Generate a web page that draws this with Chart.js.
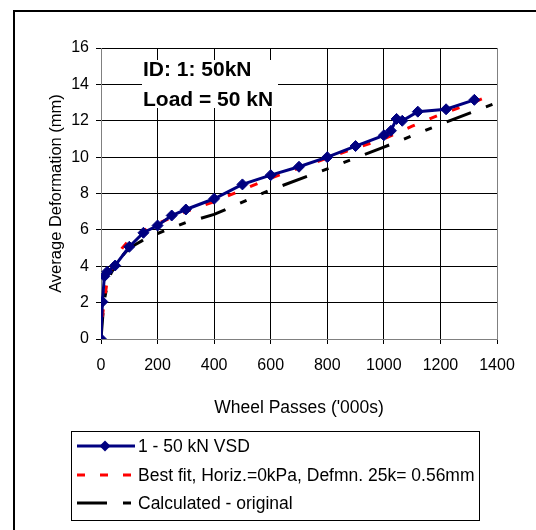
<!DOCTYPE html>
<html>
<head>
<meta charset="utf-8">
<script src="https://cdn.jsdelivr.net/npm/chart.js@4.4.1/dist/chart.umd.min.js"></script>
<style>
  body { margin: 0; background: #fff; }
  canvas { display: block; }
</style>
</head>
<body>
<canvas id="deformChart" width="536" height="530"></canvas>
<script>
// Dados
const vsdPasses = [0, 5, 12, 22, 50, 100, 150, 200, 250, 300, 400, 500, 600, 700, 800, 900, 1000, 1025, 1045, 1065, 1120, 1220, 1320];
const vsdDeform = [0, 2.05, 3.45, 3.7, 4.04, 5.07, 5.84, 6.24, 6.79, 7.12, 7.71, 8.5, 9.01, 9.47, 10.0, 10.61, 11.2, 11.45, 12.1, 12.0, 12.5, 12.63, 13.15];

const fitPasses = [5, 10, 20, 35, 50, 75, 100, 150, 200, 300, 400, 500, 600, 700, 800, 900, 1000, 1100, 1200, 1300, 1370];
const fitDeform = [1.2, 1.9, 3.0, 3.8, 4.4, 5.0, 5.45, 5.95, 6.35, 7.0, 7.55, 8.2, 8.85, 9.4, 9.95, 10.5, 11.0, 11.7, 12.35, 12.9, 13.35];

const calcPasses = [0, 10, 20, 35, 60, 100, 150, 200, 300, 400, 600, 800, 1000, 1200, 1400];
const calcDeform = [0, 2.0, 2.8, 3.6, 4.3, 5.0, 5.45, 5.8, 6.4, 6.85, 8.2, 9.35, 10.55, 11.8, 13.0];

const seriesLabels = ['1 - 50 kN VSD', 'Best fit, Horiz.=0kPa, Defmn. 25k= 0.56mm', 'Calculated - original'];
const xTitle = "Wheel Passes ('000s)";
const yTitle = 'Average Deformation (mm)';
const noteLines = ['ID: 1: 50kN', 'Load = 50 kN'];

const FONT = '"Liberation Sans", Arial, sans-serif';

function toPoints(xs, ys) {
    return xs.map((x, i) => ({ x: x, y: ys[i] }));
}

// Moldura externa, caixa de texto e legenda
const decorPlugin = {
    id: 'decor',
    beforeDatasetsDraw(chart) {
        const ctx = chart.ctx;
        // caixa branca com o texto
        ctx.save();
        ctx.fillStyle = '#fff';
        ctx.fillRect(142, 60, 136, 48);
        ctx.fillStyle = '#000';
        ctx.font = 'bold 21px ' + FONT;
        ctx.textBaseline = 'middle';
        ctx.textAlign = 'left';
        ctx.fillText(noteLines[0], 143, 70);
        ctx.fillText(noteLines[1], 143, 100);
        ctx.restore();
    },
    afterDraw(chart) {
        const ctx = chart.ctx;
        ctx.save();
        // moldura
        ctx.strokeStyle = '#000';
        ctx.lineWidth = 2;
        ctx.beginPath();
        ctx.moveTo(14, 530);
        ctx.lineTo(14, 11);
        ctx.lineTo(536, 11);
        ctx.stroke();

        // legenda
        ctx.lineWidth = 1;
        ctx.strokeRect(71.5, 431.5, 408, 89);
        const rows = [446, 475, 503];
        ctx.font = '17.5px ' + FONT;
        ctx.textBaseline = 'middle';
        chart.data.datasets.forEach((ds, i) => {
            const yy = rows[i];
            ctx.strokeStyle = ds.borderColor;
            ctx.lineWidth = ds.borderWidth;
            ctx.setLineDash(ds.legendDash || []);
            ctx.beginPath();
            ctx.moveTo(77, yy);
            ctx.lineTo(135, yy);
            ctx.stroke();
            ctx.setLineDash([]);
            if (ds.pointRadius > 0) {
                ctx.fillStyle = ds.pointBackgroundColor;
                ctx.beginPath();
                ctx.moveTo(105, yy - 5.5);
                ctx.lineTo(110.5, yy);
                ctx.lineTo(105, yy + 5.5);
                ctx.lineTo(99.5, yy);
                ctx.closePath();
                ctx.fill();
            }
            ctx.fillStyle = '#000';
            ctx.fillText(ds.label, 138, yy + 1);
        });
        ctx.restore();
    }
};

const ctx = document.getElementById('deformChart').getContext('2d');
new Chart(ctx, {
    type: 'scatter',
    data: {
        datasets: [
            {
                label: seriesLabels[0],
                data: toPoints(vsdPasses, vsdDeform),
                showLine: true,
                borderColor: '#000080',
                borderWidth: 3,
                pointStyle: 'rectRot',
                pointRadius: 5.5,
                pointBackgroundColor: '#000080',
                pointBorderColor: '#000080',
                pointBorderWidth: 1
            },
            {
                label: seriesLabels[1],
                data: toPoints(fitPasses, fitDeform),
                showLine: true,
                borderColor: '#ff0000',
                borderWidth: 3,
                borderDash: [8, 16],
                legendDash: [8, 15],
                pointRadius: 0
            },
            {
                label: seriesLabels[2],
                data: toPoints(calcPasses, calcDeform),
                showLine: true,
                borderColor: '#000000',
                borderWidth: 3,
                borderDash: [26, 16, 7, 16, 7, 16],
                legendDash: [30, 16, 8, 100],
                pointRadius: 0
            }
        ]
    },
    options: {
        responsive: false,
        animation: false,
        layout: { padding: { left: 47, right: 39, top: 48, bottom: 111 } },
        plugins: {
            legend: { display: false },
            tooltip: { enabled: false }
        },
        scales: {
            x: {
                type: 'linear',
                min: 0,
                max: 1400,
                afterFit: (s) => { s.height = 80; },
                ticks: {
                    stepSize: 200,
                    color: '#000',
                    padding: 12,
                    font: { family: FONT, size: 16 },
                    callback: (v) => String(v)
                },
                grid: {
                    color: (c) => (c.tick && c.tick.value === 1400 ? '#808080' : '#000'),
                    tickColor: '#000',
                    tickLength: 5
                },
                border: { color: '#808080', width: 1 },
                title: {
                    display: true,
                    text: xTitle,
                    color: '#000',
                    padding: { top: 11, bottom: 0 },
                    font: { family: FONT, size: 17.5 }
                }
            },
            y: {
                min: 0,
                max: 16,
                afterFit: (s) => { s.width = 54; },
                ticks: { stepSize: 2, color: '#000', padding: 7, font: { family: FONT, size: 16 } },
                grid: { color: '#000', tickColor: '#000', tickLength: 5 },
                border: { color: '#808080', width: 1 },
                title: {
                    display: true,
                    text: yTitle,
                    color: '#000',
                    padding: { top: 0, bottom: 0 },
                    font: { family: FONT, size: 16.5 }
                }
            }
        }
    },
    plugins: [decorPlugin]
});
</script>
</body>
</html>
